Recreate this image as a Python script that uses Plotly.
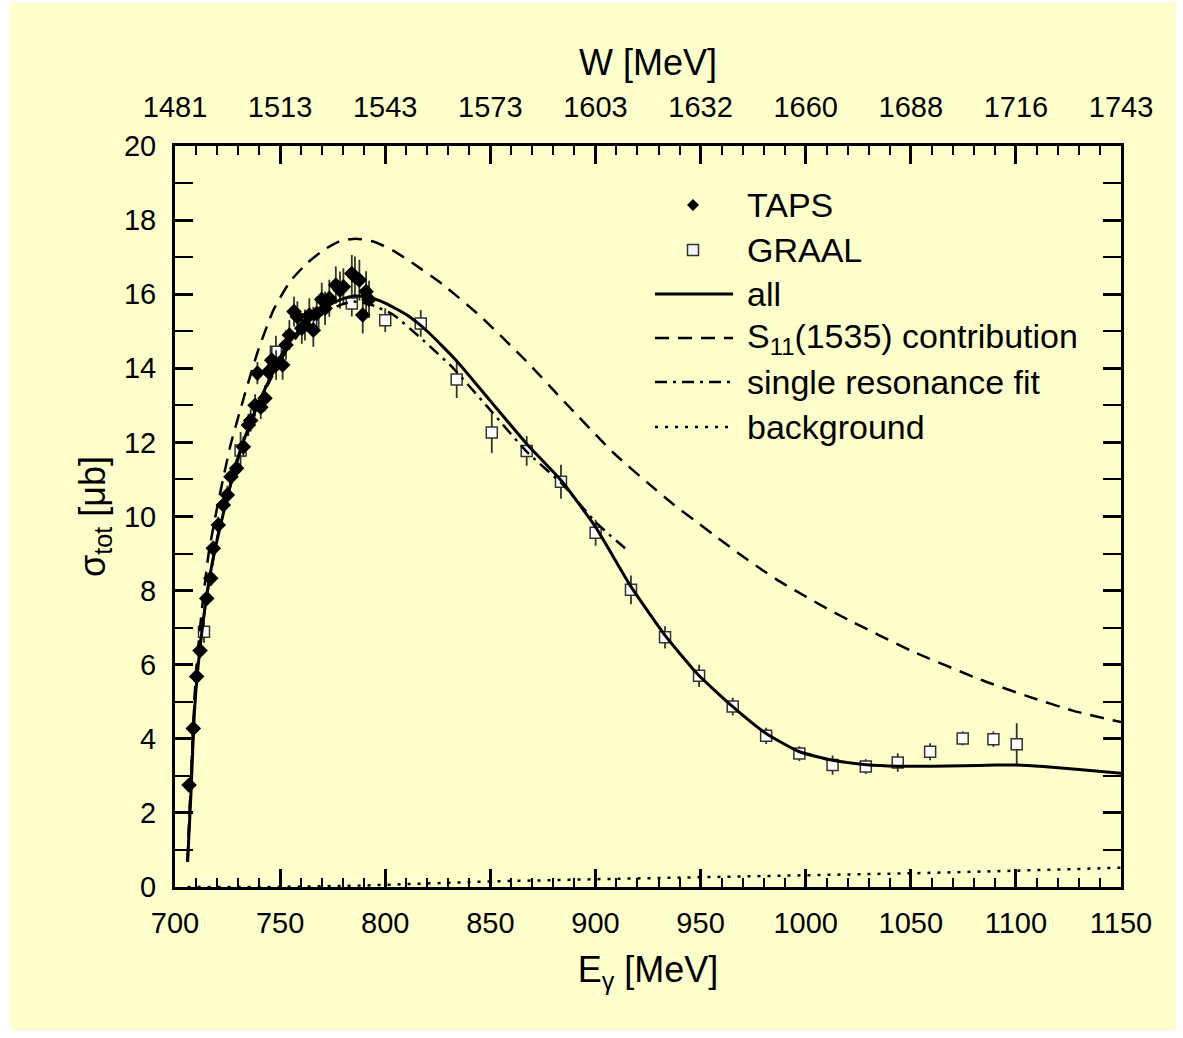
import plotly.graph_objects as go

# ---------------- data ----------------
taps_e = [706.7, 708.7, 710.3, 711.9, 715.1, 717.0, 718.2, 720.6, 723.0, 724.9, 726.6, 729.3,
          732.5, 734.9, 736.0, 738.1, 739.2, 740.8, 742.8, 744.4, 746.0, 748.1, 751.2, 752.8,
          754.4, 756.6, 758.2, 760.3, 761.8, 763.9, 765.8, 767.4, 769.8, 771.4, 773.4, 776.5,
          778.5, 780.1, 784.1, 785.6, 787.7, 789.3, 790.9, 792.3]
taps_sig = [2.75, 4.28, 5.68, 6.38, 7.79, 8.33, 9.14, 9.77, 10.31, 10.58, 11.07, 11.30,
            11.88, 12.47, 12.59, 13.00, 13.87, 12.95, 13.19, 13.91, 14.22, 14.09, 14.09, 14.63,
            14.90, 15.53, 15.39, 15.08, 15.17, 15.44, 15.03, 15.48, 15.86, 15.62, 15.89, 16.25,
            16.11, 16.20, 16.56, 16.47, 16.38, 15.44, 16.07, 15.86]
taps_err = [0.10, 0.12, 0.15, 0.15, 0.18, 0.20, 0.20, 0.22, 0.22, 0.25, 0.25, 0.25,
            0.28, 0.30, 0.30, 0.30, 0.30, 0.32, 0.35, 0.35, 0.38, 0.40, 0.40, 0.40,
            0.40, 0.40, 0.42, 0.42, 0.42, 0.45, 0.45, 0.45, 0.45, 0.45, 0.50, 0.50,
            0.50, 0.50, 0.50, 0.55, 0.55, 0.50, 0.55, 0.50]

graal_e = [713.8, 731.2, 748.0, 765.8, 784.1, 800.0, 816.9, 834.0, 850.7, 867.3, 883.6, 900.1,
           916.9, 933.1, 949.3, 965.3, 981.2, 997.0, 1012.8, 1028.6, 1043.8, 1059.2, 1074.7,
           1089.3, 1100.4]
graal_sig = [6.89, 11.78, 14.45, 15.26, 15.75, 15.30, 15.21, 13.70, 12.27, 11.77, 10.94, 9.56,
             8.02, 6.74, 5.70, 4.87, 4.08, 3.60, 3.29, 3.25, 3.36, 3.65, 4.01, 3.99, 3.85]
graal_err = [0.30, 0.50, 0.43, 0.40, 0.35, 0.32, 0.36, 0.50, 0.56, 0.40, 0.46, 0.35,
             0.39, 0.30, 0.30, 0.24, 0.22, 0.20, 0.26, 0.20, 0.25, 0.23, 0.19, 0.21, 0.57]

all_e = [706, 707.6, 709.2, 710.8, 712.7, 715, 718, 722, 725, 730, 735, 740, 745, 750, 755,
         760, 765, 770, 775, 780, 785, 790, 795, 800, 810, 820, 834, 850, 867, 884, 900, 917,
         933, 949, 965, 981, 997, 1013, 1029, 1044, 1060, 1075, 1090, 1100, 1113, 1130, 1150]
all_sig = [0.68, 2.53, 4.69, 5.86, 6.85, 7.84, 8.83, 9.85, 10.55, 11.6, 12.4, 13.1, 13.7,
           14.3, 14.75, 15.08, 15.35, 15.58, 15.76, 15.88, 15.95, 15.94, 15.87, 15.76, 15.45,
           15.0, 14.2, 13.12, 11.98, 10.95, 9.72, 8.1, 6.8, 5.72, 4.88, 4.15, 3.65, 3.42, 3.3,
           3.26, 3.26, 3.27, 3.29, 3.29, 3.25, 3.17, 3.07]

s11_e = [706, 708, 710, 713, 716, 719.8, 726.2, 733.3, 739.6, 746.8, 754.7, 762.7, 770.6, 778,
         786, 795, 804, 813, 827, 845, 867, 886, 908.5, 925, 937, 948, 958.5, 969, 979, 989,
         1000, 1010, 1020, 1050, 1083, 1105, 1127, 1150]
s11_sig = [0.7, 3.5, 5.8, 7.6, 9.0, 10.17, 11.88, 13.32, 14.49, 15.57, 16.34, 16.83, 17.19,
           17.42, 17.5, 17.41, 17.17, 16.84, 16.28, 15.42, 14.2, 13.05, 11.72, 10.9, 10.33,
           9.86, 9.41, 8.97, 8.57, 8.2, 7.84, 7.52, 7.22, 6.38, 5.6, 5.16, 4.76, 4.45]

single_e = [706, 710, 715, 720, 725, 730, 735, 740, 745, 750, 760, 770, 780, 785, 790, 795,
            804, 818, 832.4, 850, 867.3, 884.7, 900, 915]
single_sig = [0.68, 5.6, 7.8, 9.4, 10.55, 11.55, 12.35, 13.05, 13.65, 14.2, 15.0, 15.48, 15.74,
              15.8, 15.76, 15.68, 15.44, 14.76, 14.0, 12.87, 11.75, 10.85, 9.85, 9.1]

bg_e = [706, 750, 790, 800, 850, 900, 950, 1000, 1050, 1100, 1150]
bg_sig = [0.0, 0.0, 0.04, 0.06, 0.15, 0.21, 0.26, 0.31, 0.37, 0.44, 0.52]

x_ticks = [700, 750, 800, 850, 900, 950, 1000, 1050, 1100, 1150]
w_labels = ["1481", "1513", "1543", "1573", "1603", "1632", "1660", "1688", "1716", "1743"]

# ---------------- figure ----------------
FONT = "Liberation Sans, Arial, sans-serif"
BG = "#FFFFCC"
ERRC = "#333333"

fig = go.Figure()

fig.add_trace(go.Scatter(
    x=graal_e, y=graal_sig, mode="markers", name="GRAAL",
    marker=dict(symbol="square", size=11, color="white", line=dict(color="#333333", width=1.5)),
    error_y=dict(type="data", array=graal_err, color=ERRC, thickness=1.8, width=0),
    showlegend=False))

fig.add_trace(go.Scatter(
    x=taps_e, y=taps_sig, mode="markers", name="TAPS",
    marker=dict(symbol="diamond", size=12, color="black", line=dict(width=0)),
    error_y=dict(type="data", array=taps_err, color=ERRC, thickness=1.8, width=0),
    showlegend=False))

fig.add_trace(go.Scatter(x=bg_e, y=bg_sig, mode="lines", name="background",
                         line=dict(color="black", width=2.5, dash="3px,7px"), showlegend=False))
fig.add_trace(go.Scatter(x=single_e, y=single_sig, mode="lines", name="single resonance fit",
                         line=dict(color="black", width=2.5, dash="12px,6px,3px,6px",
                                   shape="spline", smoothing=0.5), showlegend=False))
fig.add_trace(go.Scatter(x=s11_e, y=s11_sig, mode="lines", name="S11(1535) contribution",
                         line=dict(color="black", width=2.5, dash="14px,9px",
                                   shape="spline", smoothing=0.5), showlegend=False))
fig.add_trace(go.Scatter(x=all_e, y=all_sig, mode="lines", name="all",
                         line=dict(color="black", width=3, shape="spline", smoothing=0.5),
                         showlegend=False))

# invisible trace for top axis
fig.add_trace(go.Scatter(x=[x_ticks[0]], y=[0], xaxis="x2", mode="markers",
                         marker=dict(opacity=0), showlegend=False, hoverinfo="skip"))

axis_common = dict(
    ticks="inside", ticklen=18, tickwidth=2.5, tickcolor="black",
    showline=True, linewidth=3, linecolor="black",
    showgrid=False, zeroline=False,
    tickfont=dict(family=FONT, size=29, color="black"),
)
minor_common = dict(ticks="inside", ticklen=9, tickwidth=2, tickcolor="black")

fig.update_layout(
    width=1183, height=1038, autosize=False,
    margin=dict(l=175, r=62, t=146, b=151),
    paper_bgcolor="white", plot_bgcolor=BG,
    font=dict(family=FONT, color="black"),
    showlegend=False,
    xaxis=dict(range=[700, 1150], tick0=700, dtick=50, ticklabelstandoff=8,
               minor=dict(dtick=10, tick0=700, **minor_common),
               title=dict(text="E<sub>γ</sub> [MeV]", font=dict(family=FONT, size=36), standoff=20),
               **axis_common),
    xaxis2=dict(range=[700, 1150], tick0=700, dtick=50, overlaying="x", side="top",
                ticklabelstandoff=14,
                labelalias={str(v): lab for v, lab in zip(x_ticks, w_labels)},
                minor=dict(dtick=10, tick0=700, **minor_common),
                title=dict(text="W [MeV]", font=dict(family=FONT, size=36), standoff=5),
                **axis_common),
    yaxis=dict(range=[0, 20], tick0=0, dtick=2, mirror="allticks", ticklabelstandoff=10,
               minor=dict(dtick=1, tick0=0, **minor_common),
               title=dict(text="σ<sub>tot</sub> [μb]", font=dict(family=FONT, size=36), standoff=8),
               **axis_common),
)

# yellow page background
fig.add_shape(type="rect", xref="paper", yref="paper", x0=-0.1744, x1=1.058, y0=-0.193, y1=1.193,
              fillcolor=BG, line=dict(width=0), layer="below")

# ---------------- hand-made legend ----------------
def px_x(p):
    return (p - 175) / 946.0

def px_y(p):
    return (887 - p) / 741.0

mx = px_x(693)
# TAPS diamond
fig.add_shape(type="path", xref="paper", yref="paper", xsizemode="pixel", ysizemode="pixel",
              xanchor=mx, yanchor=px_y(205), path="M0,6 L6,0 L0,-6 L-6,0 Z",
              fillcolor="black", line=dict(width=0))
# GRAAL square
fig.add_shape(type="rect", xref="paper", yref="paper", xsizemode="pixel", ysizemode="pixel",
              xanchor=mx, yanchor=px_y(250), x0=-5.5, x1=5.5, y0=-5.5, y1=5.5,
              fillcolor="#f4f4f4", line=dict(color="#333333", width=1.5))

line_items = [(294, "solid", 3), (338, "14px,9px", 2.5), (382, "12px,6px,3px,6px", 2.5),
              (427, "3px,7px", 2.5)]
for yy, dash, w in line_items:
    fig.add_shape(type="line", xref="paper", yref="paper", x0=px_x(655), x1=px_x(733),
                  y0=px_y(yy), y1=px_y(yy), line=dict(color="black", width=w, dash=dash))

labels = [(205, "TAPS"), (250, "GRAAL"), (294, "all"), (338, "S<sub>11</sub>(1535) contribution"),
          (382, "single resonance fit"), (427, "background")]
for yy, txt in labels:
    fig.add_annotation(xref="paper", yref="paper", x=px_x(745), y=px_y(yy), text=txt,
                       showarrow=False, xanchor="left", yanchor="middle",
                       font=dict(family=FONT, size=34, color="black"))

fig.write_html("out.html")
